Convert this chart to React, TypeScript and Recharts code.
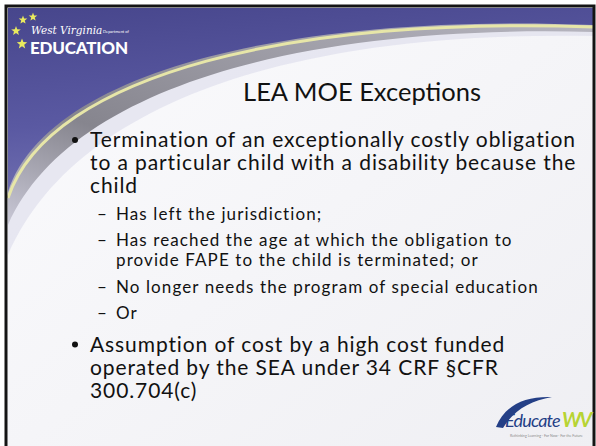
import { ComposedChart, Customized } from "recharts"

// slide text
const titleText = "LEA MOE Exceptions"
const bulletOne = [
    "Termination of an exceptionally costly obligation",
    "to a particular child with a disability because the",
    "child",
]
const subItems = [
    ["Has left the jurisdiction;"],
    ["Has reached the age at which the obligation to", "provide FAPE to the child is terminated; or"],
    ["No longer needs the program of special education"],
    ["Or"],
]
const bulletTwo = [
    "Assumption of cost by a high cost funded",
    "operated by the SEA under 34 CRF §CFR",
    "300.704(c)",
]
const logoScript = "West Virginia"
const logoSmall = "Department of"
const logoBold = "EDUCATION"
const footerLogo = ["Educate", "WV"]
const footerTagline = "Rethinking Learning · For Now · For the Future"

const W = 596
const H = 446
const FONT = "Lato, 'Open Sans', sans-serif"

type Row = { text: string; level: number; first: boolean }

const rows: Row[] = [
    ...bulletOne.map((t, i) => ({ text: t, level: 0, first: i === 0 })),
    ...subItems.flatMap((item) => item.map((t, i) => ({ text: t, level: 1, first: i === 0 }))),
    ...bulletTwo.map((t, i) => ({ text: t, level: 0, first: i === 0 })),
]

function layoutRows(list: Row[]) {
    const lineH = [23, 20]
    const gap = [9.5, 6.5]
    let y = 147
    return list.map((r, i) => {
        if (i > 0) y += lineH[r.level] + (r.first ? gap[r.level] : 0)
        return { ...r, y }
    })
}

function starPath(cx: number, cy: number, r: number) {
    const pts: string[] = []
    for (let i = 0; i < 10; i++) {
        const rad = i % 2 === 0 ? r : r * 0.42
        const a = -Math.PI / 2 + (i * Math.PI) / 5
        pts.push(`${(cx + rad * Math.cos(a)).toFixed(1)},${(cy + rad * Math.sin(a)).toFixed(1)}`)
    }
    return `M${pts.join("L")}Z`
}

function Slide() {
    const laid = layoutRows(rows)
    return (
        <g>
            <defs>
                <linearGradient id="bg" x1="0" y1="0" x2="1" y2="1">
                    <stop offset="0%" stopColor="#fbfbfd" />
                    <stop offset="100%" stopColor="#efeff3" />
                </linearGradient>
                <linearGradient id="purple" x1="0" y1="0" x2="0.3" y2="1">
                    <stop offset="0%" stopColor="#47468c" />
                    <stop offset="60%" stopColor="#5a59a2" />
                    <stop offset="100%" stopColor="#7271b2" />
                </linearGradient>
                <linearGradient id="gray" x1="0" y1="1" x2="1" y2="0">
                    <stop offset="0%" stopColor="#c9c8d6" />
                    <stop offset="30%" stopColor="#86858e" />
                    <stop offset="100%" stopColor="#b9b8c2" />
                </linearGradient>
            </defs>
            <rect x={0} y={0} width={W} height={H} fill="#ffffff" />
            <rect x={7} y={7} width={587} height={H} fill="url(#bg)" />
            {/* lavender glow under swoosh on left */}
            <path d="M594,36 C300,30 75,100 8,255 L8,8 L594,8 Z" fill="#d9d8ea" opacity={0.55} />
            {/* gray swoosh */}
            <path d="M594,32 C300,24 68,88 8,225 L8,8 L594,8 Z" fill="url(#gray)" />
            {/* yellow-cream line */}
            <path d="M594,27 C300,16 50,72 8,198" fill="none" stroke="#e7e6a8" strokeWidth={3} />
            {/* purple header */}
            <path d="M594,25 C300,13 48,68 8,192 L8,8 L594,8 Z" fill="url(#purple)" />
            {/* frame */}
            <path d={`M6,${H} L6,6 L594,6 L594,${H}`} fill="none" stroke="#141414" strokeWidth={3} />

            {/* top-left logo */}
            {[
                [23, 20, 4.5],
                [33, 17, 4.5],
                [16, 31, 5],
                [22, 44, 5.5],
            ].map(([x, y, r], i) => (
                <path key={`s${i}`} d={starPath(x, y, r)} fill="#e9ea5e" />
            ))}
            <text x={31} y={34} fontFamily="'DejaVu Serif', serif" fontStyle="italic" fontSize={10.5} fill="#ffffff">
                {logoScript}
            </text>
            <text x={103} y={33} fontFamily={FONT} fontSize={4} fill="#ffffff">
                {logoSmall}
            </text>
            <text x={30} y={54} fontFamily={FONT} fontWeight={900} fontSize={17} letterSpacing={-0.2} fill="#ffffff">
                {logoBold}
            </text>

            {/* title */}
            <text x={362} y={101} textAnchor="middle" fontFamily={FONT} fontSize={25.5} fill="#111111">
                {titleText}
            </text>

            {/* body */}
            {laid.map((r, i) => {
                const fs = r.level === 0 ? 21 : 17
                const ls = r.level === 0 ? 0.9 : 1.1
                const textX = r.level === 0 ? 90 : 116
                const markX = r.level === 0 ? 72 : 97
                return (
                    <g key={`r${i}`}>
                        {r.first && r.level === 0 && <circle cx={markX + 3} cy={r.y - 7} r={3} fill="#111111" />}
                        {r.first && r.level === 1 && (
                            <text x={markX} y={r.y} fontFamily={FONT} fontSize={fs} fill="#111111">
                                –
                            </text>
                        )}
                        <text x={textX} y={r.y} fontFamily={FONT} fontSize={fs} letterSpacing={ls} fill="#111111">
                            {r.text}
                        </text>
                    </g>
                )
            })}

            {/* Educate WV logo */}
            <path d="M496,427 C505,405 525,396 552,397 C530,401 514,410 503,428 Z" fill="#243f86" />
            <text x={505} y={427} fontFamily={FONT} fontStyle="italic" fontSize={18} fill="#243f86" letterSpacing={-0.8}>
                {footerLogo[0]}
            </text>
            <text x={562} y={427} fontFamily={FONT} fontStyle="italic" fontWeight={700} fontSize={20} fill="#b7d433" letterSpacing={-2}>
                {footerLogo[1]}
            </text>
            <text x={510} y={437} fontFamily={FONT} fontSize={3.6} fill="#8a8a8a">
                {footerTagline}
            </text>
        </g>
    )
}

export default function App() {
    return (
        <div style={{ position: "absolute", left: 0, top: 0, width: W, height: H }}>
            <ComposedChart width={W} height={H} data={rows} margin={{ top: 0, right: 0, bottom: 0, left: 0 }}>
                <Customized component={<Slide />} />
            </ComposedChart>
        </div>
    )
}
